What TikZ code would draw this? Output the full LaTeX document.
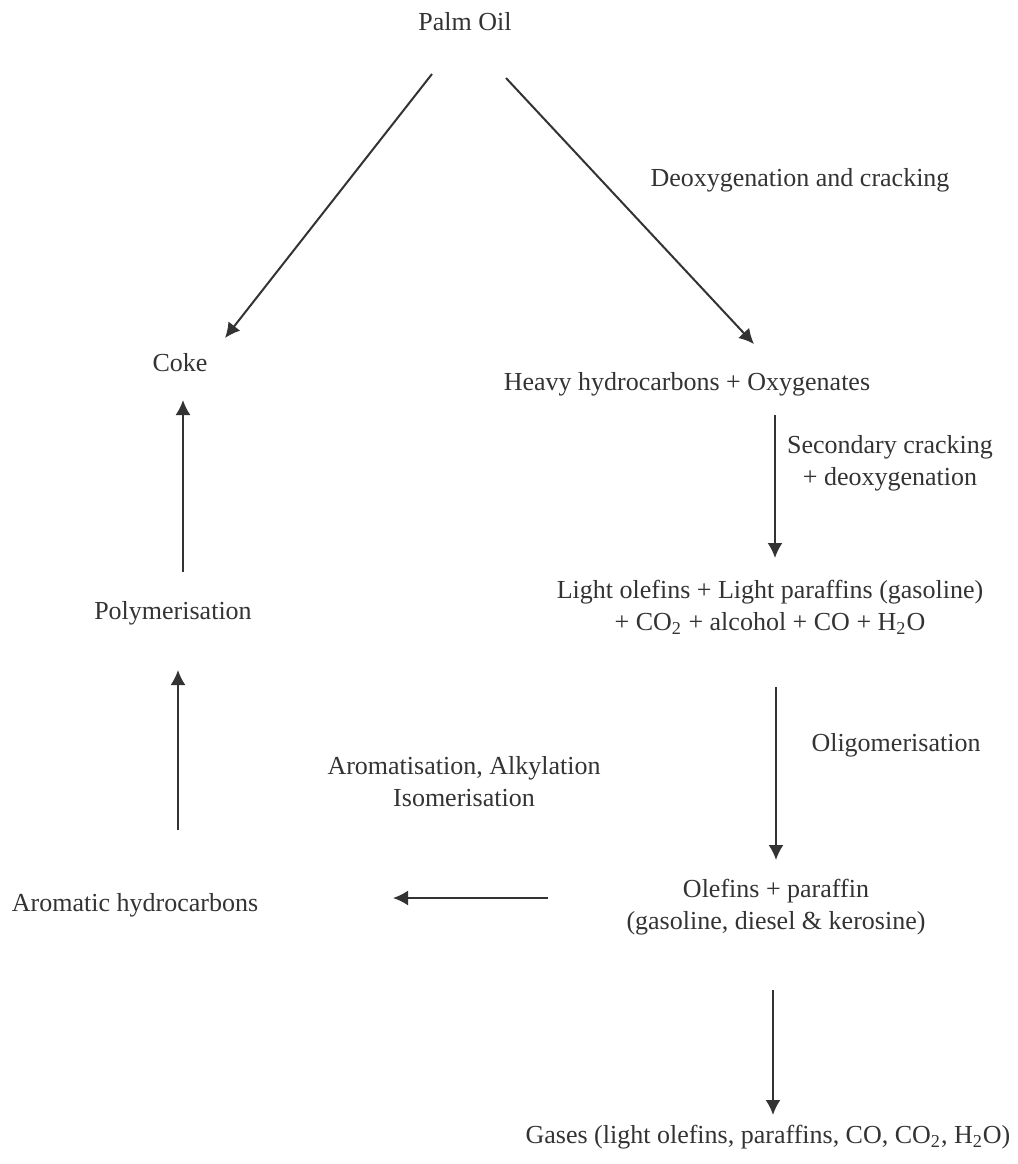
\documentclass[tikz,border=0pt]{standalone}
\usepackage{fontspec}
\setmainfont{Liberation Serif}
\usetikzlibrary{positioning, arrows.meta}
\definecolor{ink}{HTML}{333333}

\begin{document}
\begin{tikzpicture}[x=0.5pt,y=-0.5pt,>={Latex[length=7.5pt,width=7.5pt]},
  every node/.style={font=\fontsize{13}{16}\selectfont, text=ink, inner sep=0pt, align=center},
  flow/.style={->, draw=ink, line width=1pt}]
  \useasboundingbox (0,0) rectangle (1018,1164);
  % products
  \node (palm) at (465,22) {Palm Oil};
  \node (coke) at (180,363) {Coke};
  \node (heavy) at (687,384) {Heavy hydrocarbons + Oxygenates};
  \node (light) at (770,607) {Light olefins + Light paraffins (gasoline)\\+ CO\textsubscript{2} + alcohol + CO + H\textsubscript{2}O};
  \node (olef) at (776,907) {Olefins + paraffin\\(gasoline, diesel \& kerosine)};
  \node (arom) at (135,905) {Aromatic hydrocarbons};
  \node (polym) at (173,613) {Polymerisation};
  \node (gases) at (768,1137) {Gases (light olefins, paraffins, CO, CO\textsubscript{2}, H\textsubscript{2}O)};
  % reactions
  \node (deox) at (800,180) {Deoxygenation and cracking};
  \node (second) at (890,463) {Secondary cracking\\+ deoxygenation};
  \node (oligo) at (896,745) {Oligomerisation};
  \node (aromlab) at (464,782) {Aromatisation, Alkylation\\Isomerisation};

  \draw[flow] ([shift={(-33,52)}]palm.center) -- ([shift={(45,-25)}]coke.center);
  \draw[flow] ([shift={(41,56)}]palm.center) -- ([shift={(67,-40)}]heavy.center);
  \draw[flow] ([shift={(88,31)}]heavy.center) -- ([shift={(5,-49)}]light.center);
  \draw[flow] ([shift={(6,80)}]light.center) -- ([shift={(0,-47)}]olef.center);
  \draw[flow] ([shift={(-3,83)}]olef.center) -- ([shift={(5,-22)}]gases.center);
  \draw[flow] ([shift={(-228,-9)}]olef.center) -- ([shift={(258,-7)}]arom.center);
  \draw[flow] ([shift={(43,-75)}]arom.center) -- ([shift={(5,57)}]polym.center);
  \draw[flow] ([shift={(10,-41)}]polym.center) -- ([shift={(3,37)}]coke.center);
\end{tikzpicture}
\end{document}
